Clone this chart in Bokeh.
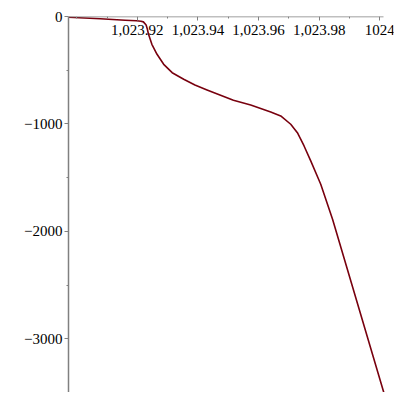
from bokeh.plotting import figure
from bokeh.models import Range1d, FixedTicker
from bokeh.embed import file_html
from bokeh.resources import INLINE

x_vals = [1023.8973, 1023.9078, 1023.9160, 1023.9197, 1023.9212, 1023.9220, 1023.9229,
          1023.9233, 1023.9237, 1023.9248, 1023.9265, 1023.9287, 1023.9315, 1023.9353,
          1023.9390, 1023.9430, 1023.9517, 1023.9574, 1023.9640, 1023.9673, 1023.9706,
          1023.9728, 1023.9750, 1023.9772, 1023.9805, 1023.9844, 1024.0013]
y_vals = [-7, -21, -35, -40, -44, -50, -79, -116, -166, -259, -352, -445, -523, -584,
          -637, -684, -780, -823, -888, -926, -1003, -1081, -1205, -1344, -1561, -1887, -3500]

x_ticks = [1023.92, 1023.94, 1023.96, 1023.98, 1024.0]
x_minor = [1023.90, 1023.91, 1023.93, 1023.95, 1023.97, 1023.99]
x_labels = ["1,023.92", "1,023.94", "1,023.96", "1,023.98", "1024"]
y_ticks = [0, -1000, -2000, -3000]
y_minor = [-500, -1500, -2500, -3500]
y_labels = ["0", "\u22121000", "\u22122000", "\u22123000"]

p = figure(width=400, height=392, output_backend="svg", toolbar_location=None,
           x_range=Range1d(1023.8973, 1024.0045), y_range=Range1d(-3500, 0),
           min_border_left=68, min_border_right=7, min_border_top=16, min_border_bottom=0)
p.outline_line_color = None
p.xgrid.visible = False
p.ygrid.visible = False

p.line(x_vals, y_vals, line_color="#78000E", line_width=1.6, line_join="round")

font = "Liberation Serif"
for ax in (p.xaxis[0], p.yaxis[0]):
    ax.axis_line_color = "#808080"
    ax.axis_line_width = 1.5
    ax.major_tick_line_color = "#808080"
    ax.minor_tick_line_color = "#808080"
    ax.major_label_text_font = font
    ax.major_label_text_font_size = "15px"
    ax.major_label_text_color = "black"
    ax.major_tick_out = 4
    ax.major_tick_in = 0
    ax.minor_tick_out = 2
    ax.minor_tick_in = 0

p.xaxis[0].ticker = FixedTicker(ticks=x_ticks, minor_ticks=x_minor)
p.xaxis[0].major_label_overrides = {t: l for t, l in zip(x_ticks, x_labels)}
p.xaxis[0].fixed_location = 0
p.xaxis[0].bounds = (x_vals[0], x_vals[-1])
p.xaxis[0].major_label_standoff = 4
p.yaxis[0].ticker = FixedTicker(ticks=y_ticks, minor_ticks=y_minor)
p.yaxis[0].major_label_overrides = {t: l for t, l in zip(y_ticks, y_labels)}
p.yaxis[0].major_label_standoff = 2

open("out.html", "w").write(file_html(p, INLINE))
